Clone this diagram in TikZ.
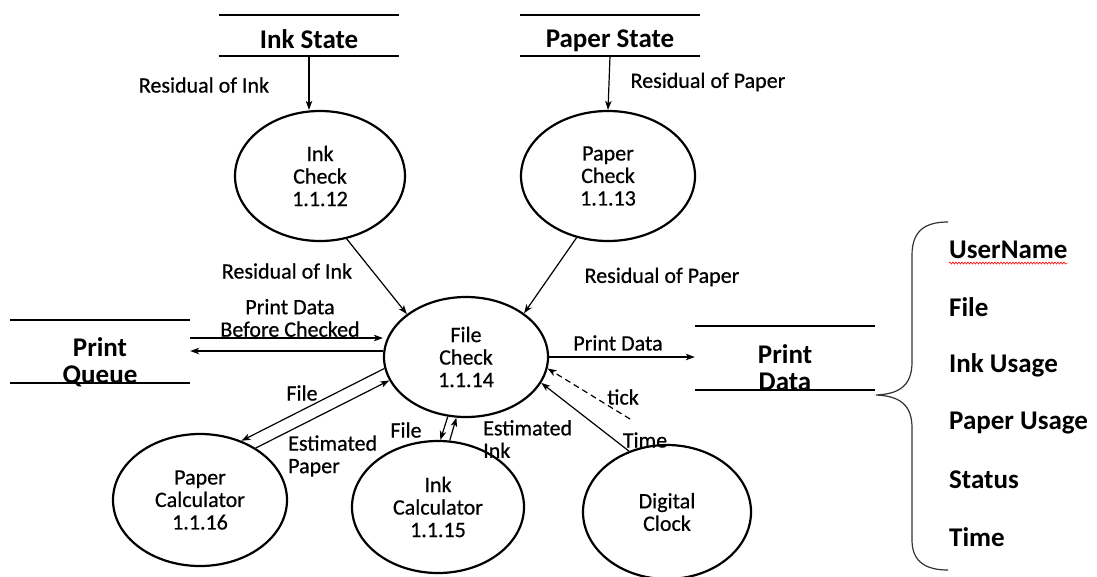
\documentclass[tikz,border=0pt]{standalone}
\usepackage{fontspec}
\setmainfont{Carlito}
\usetikzlibrary{shapes.geometric,arrows.meta,decorations.pathmorphing}
\newcommand\rgfont{\fontsize{22}{22.5}\selectfont\addfontfeatures{FakeBold=0.6}}
\newcommand\bdfont{\bfseries\fontsize{27}{27}\selectfont}
\begin{document}
\begin{tikzpicture}[x=1pt,y=-1pt,
  proc/.style={ellipse, draw, line width=2.2pt, inner sep=0pt, align=center, font=\rgfont},
  store/.style={rectangle, inner sep=0pt, minimum width=180pt},
  storeline/.style={line width=1.6pt},
  storetext/.style={font=\bdfont, inner sep=0pt, align=center},
  flow/.style={-{Stealth[length=9pt,width=6.5pt,inset=2.5pt]}, line width=1.2pt},
  lbl/.style={font=\rgfont, inner sep=0pt, align=center},
  item/.style={font=\bdfont, inner sep=0pt, anchor=west}]
\useasboundingbox (0,0) rectangle (1097,576);

% processes
\node[proc, minimum width=170pt, minimum height=130pt] (inkcheck) at (320,176) {Ink\\Check\\1.1.12};
\node[proc, minimum width=174pt, minimum height=130pt] (papercheck) at (608,176) {Paper\\Check\\1.1.13};
\node[proc, minimum width=164pt, minimum height=120pt] (filecheck) at (466,357) {File\\Check\\1.1.14};
\node[proc, minimum width=174pt, minimum height=132pt] (papercalc) at (200,500) {Paper\\Calculator\\1.1.16};
\node[proc, minimum width=172pt, minimum height=132pt] (inkcalc) at (438,507) {Ink\\Calculator\\1.1.15};
\node[proc, minimum width=168pt, minimum height=134pt] (clock) at (667,512) {Digital\\Clock};

% data stores
\node[store, minimum height=41pt] (inkstate) at (309,35.5) {};
\node[storetext] (inkstatetext) at (309,39) {Ink State};
\node[store, minimum height=41pt] (paperstate) at (610,35.5) {};
\node[storetext] (paperstatetext) at (610,41) {Paper State};
\node[store, minimum height=63pt] (queue) at (100,351.5) {};
\node[storetext] (queuetext) at (100,362) {Print\\Queue};
\node[store, minimum height=64pt] (pdata) at (785,358) {};
\node[storetext] (pdatatext) at (785,368) {Print\\Data};
\foreach \s in {inkstate,paperstate,queue,pdata}{
  \draw[storeline] (\s.north west) -- (\s.north east) (\s.south west) -- (\s.south east);
}

% flows
\draw[flow] (inkstate.south) -- (inkstate.south |- inkcheck.north);
\draw[flow] (paperstate.south) -- (papercheck.north);
\draw[flow] (inkcheck.-67) -- (filecheck.144);
\draw[flow] (papercheck.-117) -- (filecheck.37);
\coordinate (qin) at ([yshift=13.5pt]queue.east);
\draw[flow] (qin) -- (qin -| filecheck.west);
\coordinate (qout) at ([yshift=6pt]filecheck.west);
\draw[flow] (qout) -- (qout -| queue.east);
\draw[flow] (filecheck.east) -- (filecheck.east -| pdata.west);
\draw[flow] (filecheck.188) -- (papercalc.55);
\draw[flow] (papercalc.43) -- (filecheck.197);
\draw[flow] (filecheck.253) -- (inkcalc.88);
\draw[flow] (inkcalc.80) -- (filecheck.261);
\coordinate (tickend) at (630,419);
\draw[flow, dash pattern=on 6pt off 4pt] (tickend) -- (filecheck.-8);
\draw[flow] (clock.122) -- (filecheck.-19);

% flow labels
\node[lbl] (l1) at (204,85) {Residual of Ink};
\node[lbl] (l2) at (708,82) {Residual of Paper};
\node[lbl] (l3) at (287,271) {Residual of Ink};
\node[lbl] (l4) at (662,277) {Residual of Paper};
\node[lbl] (l5) at (290,318) {Print Data\\Before Checked};
\node[lbl] (l6) at (618,343) {Print Data};
\node[lbl] (l7) at (302,393) {File};
\node[lbl, align=left, anchor=west] (l8) at (288,456) {Estimated\\Paper};
\node[lbl] (l9) at (406,430) {File};
\node[lbl, align=left, anchor=west] (l10) at (483,439) {Estimated\\Ink};
\node[lbl] (l11) at (623,397) {tick};
\node[lbl] (l12) at (645,440) {Time};

% brace
\draw[line width=1.2pt, black!80]
  (948,222) .. controls (926,222) and (912,230) .. (912,255)
  -- (912,362) .. controls (912,385) and (900,394) .. (876,395)
  .. controls (900,396) and (912,405) .. (912,428)
  -- (912,540) .. controls (912,562) and (926,570) .. (948,570);

% data items
\node[item] (i1) at (949,250) {UserName};
\node[item] (i2) at (949,307) {File};
\node[item] (i3) at (949,365) {Ink Usage};
\node[item] (i4) at (949,423) {Paper Usage};
\node[item] (i5) at (949,480) {Status};
\node[item] (i6) at (949,537) {Time};
\draw[red, line width=0.6pt, decorate, decoration={snake, amplitude=1pt, segment length=3pt}]
  ([yshift=-4pt]i1.south west) -- ([yshift=-4pt]i1.south east);
\end{tikzpicture}
\end{document}
